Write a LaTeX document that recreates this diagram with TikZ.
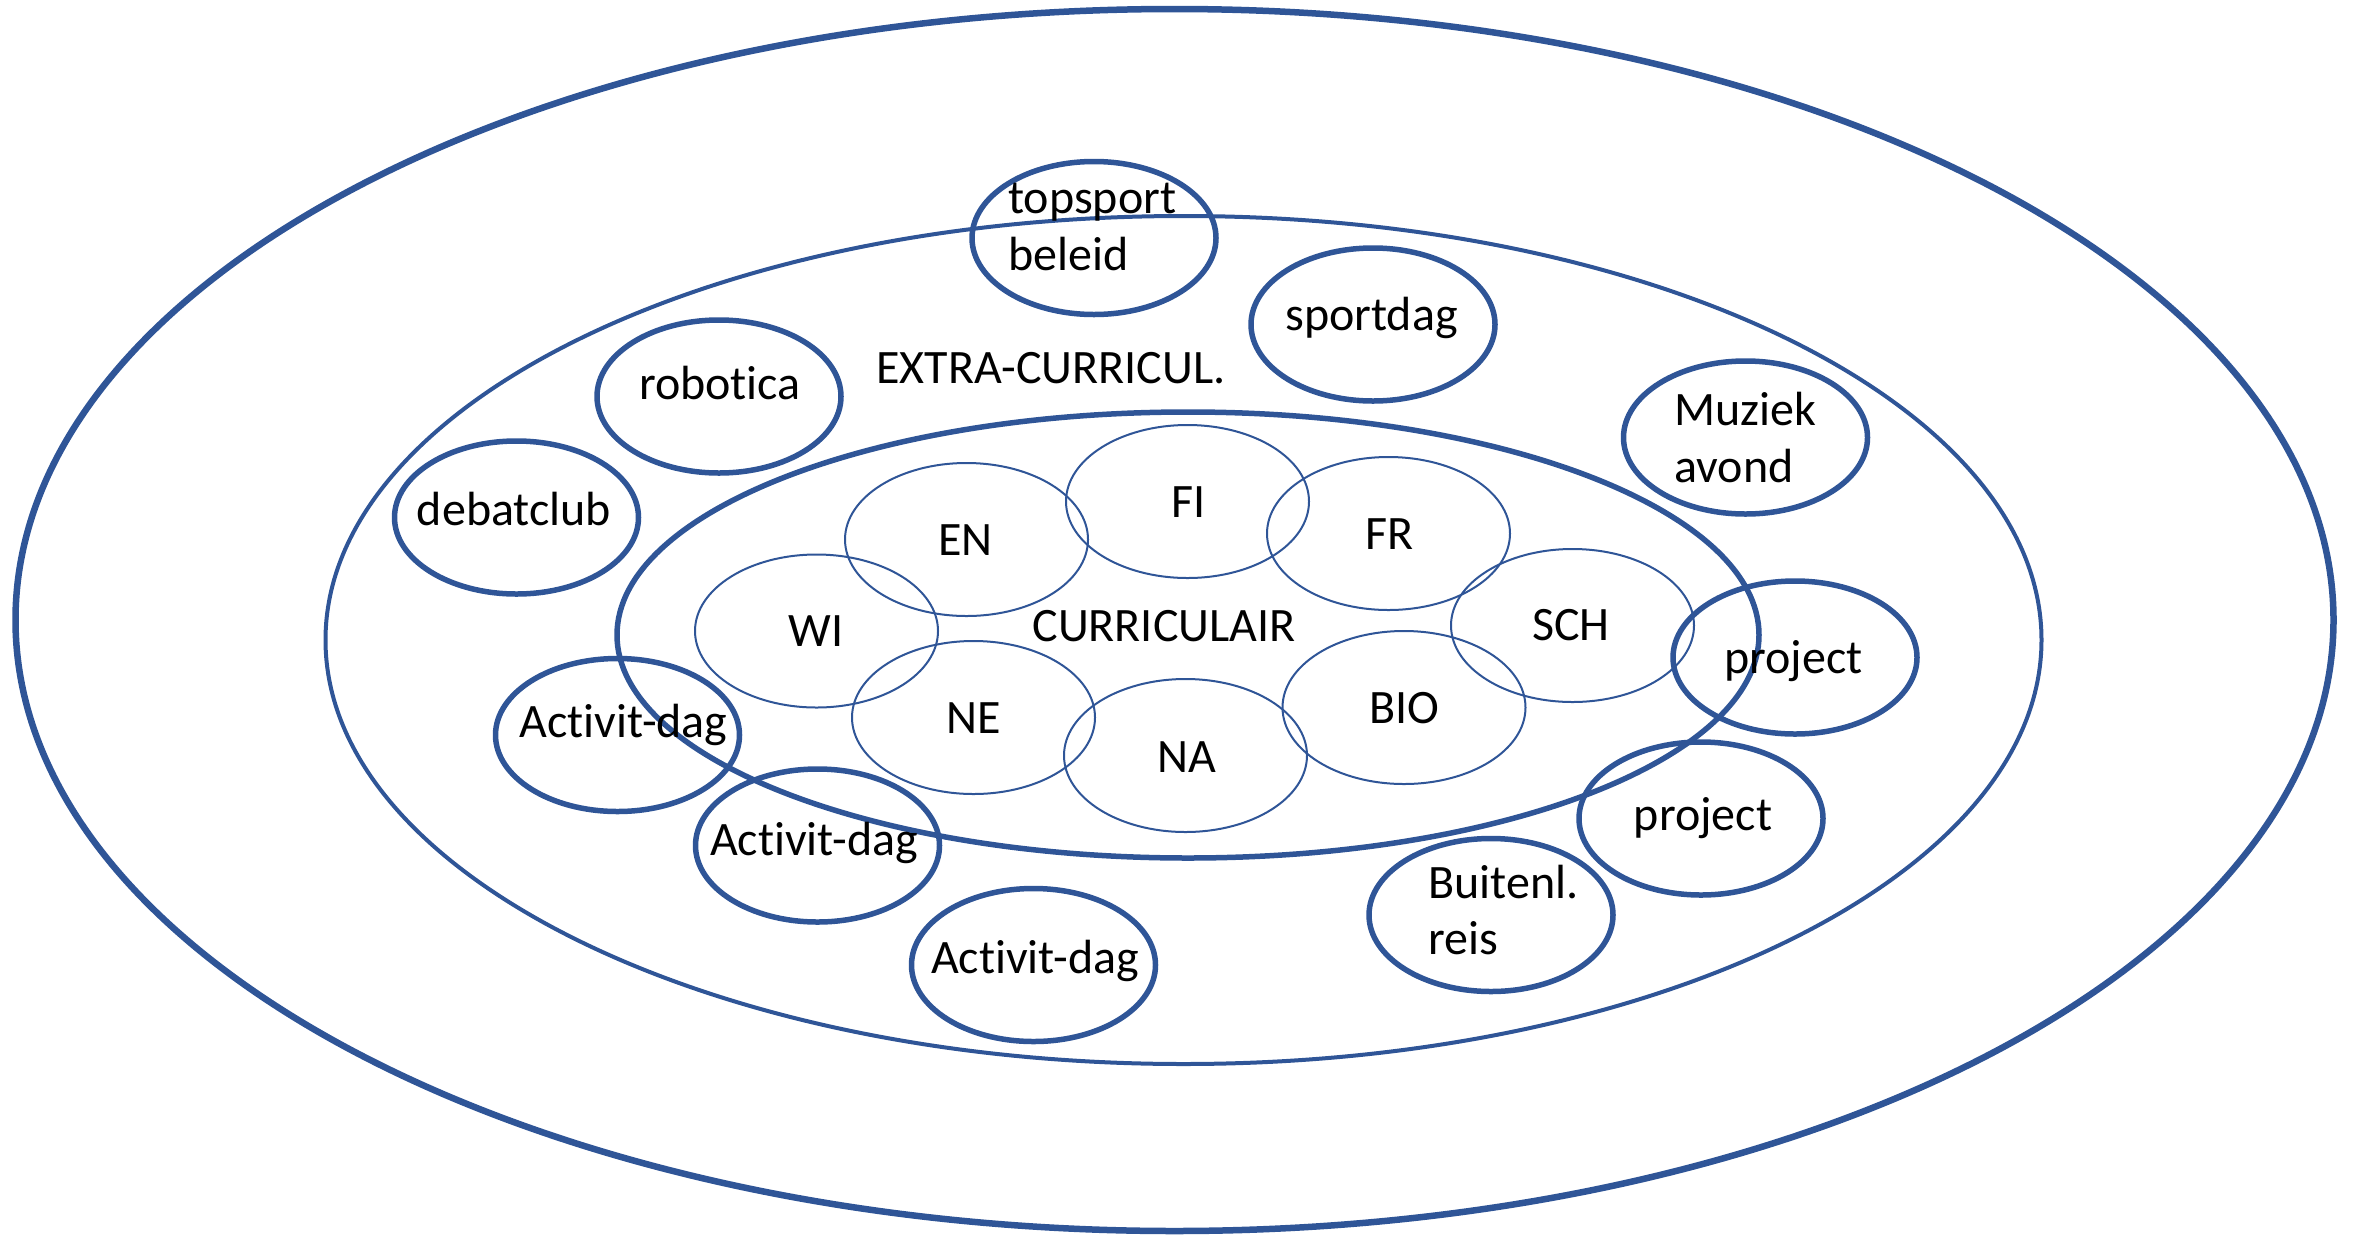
\documentclass[tikz,border=0pt]{standalone}
\usepackage{fontspec}
\setmainfont{Carlito}[Ligatures={NoCommon}]
\usetikzlibrary{shapes.geometric}
\definecolor{cblue}{RGB}{47,85,151}
\tikzset{
  ring/.style={shape=ellipse, draw=cblue, inner sep=0pt},
  extra/.style={ring, line width=5.5pt, minimum width=244pt, minimum height=153pt},
  subj/.style={ring, line width=2pt, minimum width=243pt, minimum height=153pt},
  lbl/.style={anchor=base, inner sep=0pt, font=\fontsize{48}{58}\selectfont},
  lbll/.style={lbl, anchor=base west}
}
\begin{document}
\begin{tikzpicture}[x=1pt, y=-1pt]
\useasboundingbox (0,0) rectangle (2361,1240);
% big rings
\node[ring, line width=6.5pt, minimum width=2318pt, minimum height=1222pt] (outer) at (1174.5,620) {};
\node[ring, line width=4pt, minimum width=1716pt, minimum height=848pt] (middle) at (1183.5,640) {};
\node[ring, line width=5.5pt, minimum width=1142pt, minimum height=446pt] (inner) at (1188,635) {};
% subjects
\node[subj] (eEN) at (966.5,539.5) {};
\node[subj] (eFI) at (1187.5,501.5) {};
\node[subj] (eFR) at (1388.5,533.5) {};
\node[subj] (eWI) at (816.5,631) {};
\node[subj] (eNE) at (973.5,717.5) {};
\node[subj] (eNA) at (1185.5,755.5) {};
\node[subj] (eBIO) at (1404,707.5) {};
\node[subj] (eSCH) at (1572.5,625.5) {};
% extra-curricular
\node[extra] (eTop) at (1094,238) {};
\node[extra] (eSport) at (1373,324.5) {};
\node[extra] (eRob) at (719,396.5) {};
\node[extra] (eDeb) at (516.5,517.5) {};
\node[extra] (eMuz) at (1745.5,437.5) {};
\node[extra] (eProj1) at (1795,657.5) {};
\node[extra] (eProj2) at (1701,818.5) {};
\node[extra] (eBui) at (1491,915) {};
\node[extra] (eAct1) at (617.5,735) {};
\node[extra] (eAct2) at (817.5,845.5) {};
\node[extra] (eAct3) at (1033.5,965) {};
% labels
\node[lbl] (tExtra) at (1051,383) {EXTRA-CURRICUL.};
\node[lbl] (tCur) at (1164,641) {CURRICULAIR};
\node[lbl] (tEN) at (965.5,555) {EN};
\node[lbl] (tFI) at (1189,517) {FI};
\node[lbl] (tFR) at (1390,549) {FR};
\node[lbl] (tWI) at (816,646) {WI};
\node[lbl] (tNE) at (974,733) {NE};
\node[lbl] (tNA) at (1187,772) {NA};
\node[lbl] (tBIO) at (1404,723) {BIO};
\node[lbl] (tSCH) at (1571,640) {SCH};
\node[lbl] (tRob) at (720,399) {robotica};
\node[lbl] (tDeb) at (514,525) {debatclub};
\node[lbl] (tSport) at (1371.5,330) {sportdag};
\node[lbll] (tTop1) at (1008,213) {topsport};
\node[lbll] (tTop2) at (1008,270) {beleid};
\node[lbll] (tMuz1) at (1674,425) {Muziek};
\node[lbll] (tMuz2) at (1674,482) {avond};
\node[lbl] (tProj1) at (1793.5,673) {project};
\node[lbl] (tProj2) at (1703,830) {project};
\node[lbll] (tBui1) at (1428,898) {Buitenl.};
\node[lbll] (tBui2) at (1428,954) {reis};
\node[lbl] (tAct1) at (623.5,737) {Activit-dag};
\node[lbl] (tAct2) at (814,855) {Activit-dag};
\node[lbl] (tAct3) at (1035,973) {Activit-dag};
\end{tikzpicture}
\end{document}
